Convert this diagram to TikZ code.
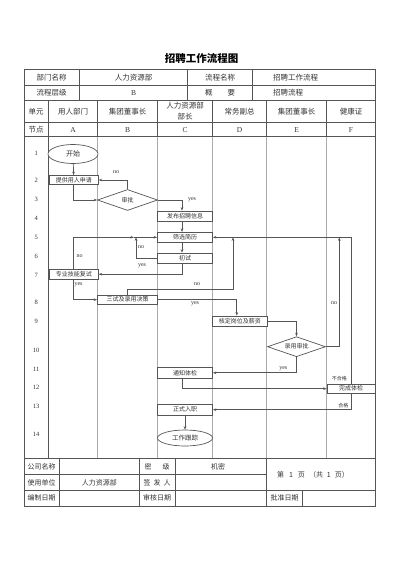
\documentclass[tikz,border=0pt]{standalone}
\usepackage{fontspec}
\setmainfont{Liberation Serif}
\newfontfamily\cjk{Noto Sans CJK SC}
\usetikzlibrary{shapes.geometric,arrows.meta}
\definecolor{linec}{HTML}{555555}
\definecolor{lanec}{HTML}{AAAAAA}
\definecolor{txtc}{HTML}{333333}
\begin{document}
\begin{tikzpicture}[x=1pt,y=-1pt,
  tbl/.style={draw=linec, line width=0.7pt},
  lane/.style={draw=lanec, line width=0.8pt},
  ttxt/.style={font=\cjk\fontsize{7.5}{11}\selectfont, text=txtc, inner sep=0pt, align=center},
  ltxt/.style={font=\fontsize{7.5}{9}\selectfont, text=txtc, inner sep=0pt},
  ftxt/.style={font=\cjk\fontsize{7}{8}\selectfont, text=txtc, inner sep=0pt},
  num/.style={font=\fontsize{6.5}{7}\selectfont, text=txtc, inner sep=0pt},
  box/.style={draw=linec, line width=0.7pt, fill=white, rectangle, inner sep=0pt, minimum height=10pt, font=\cjk\fontsize{6}{6}\selectfont, text=txtc},
  ell/.style={draw=linec, line width=0.7pt, fill=white, ellipse, inner sep=0pt, font=\cjk\fontsize{6.5}{6.5}\selectfont, text=txtc},
  dia/.style={draw=linec, line width=0.7pt, fill=white, diamond, aspect=3, inner sep=0pt, font=\cjk\fontsize{6}{6}\selectfont, text=txtc},
  arr/.style={draw=linec, line width=0.7pt, -{Stealth[length=3.5pt,width=2.6pt]}},
  con/.style={draw=linec, line width=0.7pt},
  lbl/.style={font=\fontsize{6}{6}\selectfont, text=txtc, inner sep=0pt},
  clbl/.style={font=\cjk\fontsize{5}{6}\selectfont, text=txtc, inner sep=0pt},
]
\fill[white] (0,0) rectangle (400,565);
\useasboundingbox (0,0) rectangle (400,565);

% title
\node[font=\cjk\bfseries\fontsize{10.5}{12}\selectfont, text=black] (title) at (201.5,58.5) {招聘工作流程图};

% body lanes (light)
\foreach \x in {97.7,157.7,212.3,266.7,326.7}
  \draw[lane] (\x,136.7) -- (\x,458.3);
\draw[tbl] (48.3,136.7) -- (48.3,458.3);

% table frame
\draw[tbl] (24,69.5) rectangle (375,506);
\foreach \y in {85.8,100,122.6,136.7,458.3,490.5}
  \draw[tbl] (24,\y) -- (375,\y);
\draw[tbl] (24,474.4) -- (266.7,474.4);
\foreach \x in {79.3,187.7,252.7}
  \draw[tbl] (\x,69.5) -- (\x,100);
\foreach \x in {48.3,97.7,157.7,212.3,266.7,326.7}
  \draw[tbl] (\x,100) -- (\x,136.7);
\foreach \x in {59.3,139.3,175,266.7}
  \draw[tbl] (\x,458.3) -- (\x,506);
\draw[tbl] (302.7,490.5) -- (302.7,506);

% header texts
\node[ttxt] (h11) at (51.7,77.6) {部门名称};
\node[ttxt] (h12) at (133.5,77.6) {人力资源部};
\node[ttxt] (h13) at (220.2,77.6) {流程名称};
\node[ttxt, anchor=west] (h14) at (273,77.6) {招聘工作流程};
\node[ttxt] (h21) at (51.7,92.9) {流程层级};
\node[ltxt] (h22) at (133.5,92.9) {B};
\node[ttxt] (h23) at (220.2,92.9) {概\hspace{15pt}要};
\node[ttxt, anchor=west] (h24) at (273,92.9) {招聘流程};
\node[ttxt] (h31) at (36.2,111.3) {单元};
\node[ttxt] (h32) at (73,111.3) {用人部门};
\node[ttxt] (h33) at (127.7,111.3) {集团董事长};
\node[ttxt] (h34) at (185,111.6) {人力资源部\\部长};
\node[ttxt] (h35) at (239.5,111.3) {常务副总};
\node[ttxt] (h36) at (296.7,111.3) {集团董事长};
\node[ttxt] (h37) at (351,111.3) {健康证};
\node[ttxt] (h41) at (36.2,129.8) {节点};
\node[ltxt] (h42) at (73,129.8) {A};
\node[ltxt] (h43) at (127.7,129.8) {B};
\node[ltxt] (h44) at (185,129.8) {C};
\node[ltxt] (h45) at (239.5,129.8) {D};
\node[ltxt] (h46) at (296.7,129.8) {E};
\node[ltxt] (h47) at (351,129.8) {F};

% row numbers
\foreach \n/\y in {1/153.3,2/180.7,3/199.3,4/218.7,5/237.3,6/256.7,7/275,8/302.7,9/321.7,10/350,11/369.3,12/387.3,13/406,14/434.3}
  \node[num] (r\n) at (36.2,\y) {\n};

% footer texts
\node[ftxt] (f11) at (41.7,466.4) {公司名称};
\node[ftxt] (f13) at (157.2,466.4) {密\hspace{11pt}级};
\node[ftxt] (f14) at (218,466.4) {机密};
\node[ftxt] (f15) at (313,474.4) {第\hspace{5pt}1\hspace{5pt}页\hspace{4pt}（共\hspace{4pt}1\hspace{4pt}页）};
\node[ftxt] (f21) at (41.7,482.5) {使用单位};
\node[ftxt] (f22) at (99.3,482.5) {人力资源部};
\node[ftxt] (f23) at (157.2,482.5) {签\hspace{3pt}发\hspace{3pt}人};
\node[ftxt] (f31) at (41.7,498.3) {编制日期};
\node[ftxt] (f33) at (157.2,498.3) {审核日期};
\node[ftxt] (f35) at (284.7,498.3) {批准日期};

% flow nodes
\node[ell, minimum width=50pt, minimum height=19pt, font=\cjk\fontsize{7}{7}\selectfont] (start) at (73,154) {开始};
\node[box, minimum width=49pt, minimum height=9pt] (apply) at (73.8,180) {提供用人申请};
\node[dia, minimum width=60pt, minimum height=21pt] (approve) at (127.5,200) {审批};
\node[box, minimum width=55pt] (publish) at (185,216) {发布招聘信息};
\node[box, minimum width=55pt] (screen) at (185,237.3) {筛选简历};
\node[box, minimum width=55pt] (first) at (185,258) {初试};
\node[box, minimum width=49pt] (retest) at (73.8,274.2) {专业技能复试};
\node[box, minimum width=60pt, minimum height=9.5pt] (third) at (127.5,299.7) {三试及录用决策};
\node[box, minimum width=55pt] (verify) at (239.8,321) {核定岗位及薪资};
\node[dia, minimum width=58pt, minimum height=20pt] (hire) at (296.5,346.7) {录用审批};
\node[box, minimum width=55pt, minimum height=11pt] (notify) at (185,372.8) {通知体检};
\node[box, minimum width=48pt, minimum height=9.5pt] (done) at (351,388.7) {完成体检};
\node[box, minimum width=55pt, minimum height=10.5pt] (formal) at (185,409.7) {正式入职};
\node[ell, minimum width=55pt, minimum height=16pt] (track) at (185,438) {工作跟踪};

% junction coordinates
\coordinate (j1) at (136,237.3);
\coordinate (j2) at (233,289.2);
\coordinate (j3) at (233,237.3);
\coordinate (j4) at (339.3,237.3);

% connectors
\draw[arr] (start) -- (apply);
\draw[arr] (apply.south) |- (approve.west);
\draw[arr] (approve.north) |- (apply.east);
\draw[arr] (approve.east) -| ([xshift=-3pt]publish.north);
\draw[arr] ([xshift=-3pt]publish.south) -- ([xshift=-3pt]screen.north);
\draw[arr] ([xshift=-3pt]screen.south) -- ([xshift=-3pt]first.north);
\draw[arr] (first.west) -| (j1);
\draw[arr] (retest.north) |- ([xshift=-2pt]j1);
\draw[arr] ([xshift=-2pt]j1) -- (screen.west);
\draw[arr] ([xshift=-3pt]first.south) |- (retest.east);
\draw[arr] (retest.south) |- (third.west);
\draw[arr] (third.north) |- (j2) -- (j3);
\draw[arr] (done.north) |- (screen.east);
\draw[arr] (hire.east) -| (j4);
\draw[arr] (third.east) -| ([xshift=-3pt]verify.north);
\draw[arr] (verify.east) -| (hire.north);
\draw[arr] (hire.south) |- (notify.east);
\draw[arr] ([xshift=-3pt]notify.south) |- (done.west);
\draw[arr] (done.south) |- (formal.east);
\draw[arr] (formal) -- (track);

% labels
\node[lbl] (l1) at (116,172) {no};
\node[lbl] (l2) at (192,200) {yes};
\node[lbl] (l3) at (141,247) {no};
\node[lbl] (l4) at (79.5,256.5) {no};
\node[lbl] (l5) at (142,266) {yes};
\node[lbl] (l6) at (78.5,285) {yes};
\node[lbl] (l7) at (197,284.5) {no};
\node[lbl] (l8) at (195,304) {yes};
\node[lbl] (l9) at (334,303.3) {no};
\node[lbl] (l10) at (283.3,368.5) {yes};
\node[clbl] (l11) at (339.3,378.3) {不合格};
\node[clbl] (l12) at (343.3,406) {合格};
\end{tikzpicture}
\end{document}
